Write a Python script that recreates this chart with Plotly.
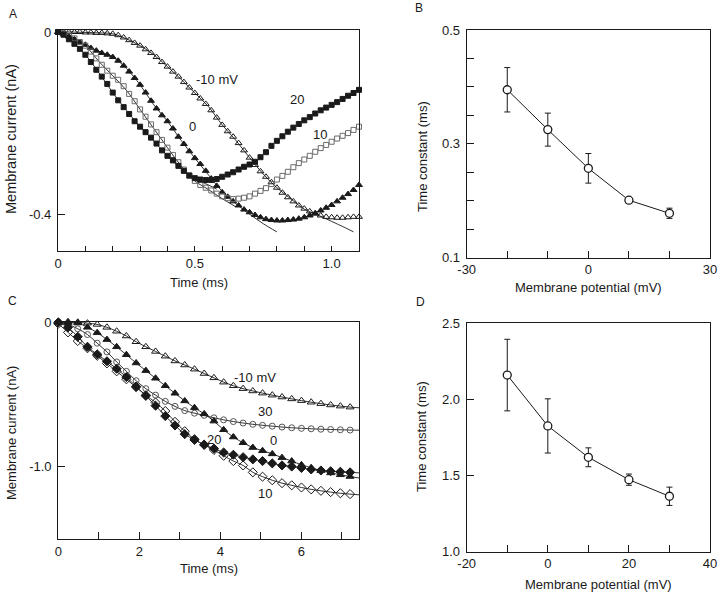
import plotly.graph_objects as go

# ---------------- Panel A data (membrane current, nA) ----------------
tA = [round(0.02 * i, 2) for i in range(56)]
A_20 = [0, -0.006, -0.016, -0.026, -0.037, -0.050, -0.066, -0.083, -0.098, -0.114,
        -0.133, -0.150, -0.165, -0.180, -0.196, -0.208, -0.220, -0.232, -0.245, -0.260,
        -0.272, -0.282, -0.294, -0.305, -0.315, -0.321, -0.324, -0.325, -0.325, -0.323,
        -0.318, -0.313, -0.308, -0.302, -0.296, -0.291, -0.285, -0.275, -0.264, -0.250,
        -0.239, -0.229, -0.219, -0.210, -0.202, -0.194, -0.187, -0.179, -0.172, -0.166,
        -0.160, -0.154, -0.147, -0.140, -0.134, -0.127]
A_10 = [0, -0.003, -0.008, -0.014, -0.022, -0.030, -0.043, -0.058, -0.072, -0.085,
        -0.096, -0.105, -0.119, -0.136, -0.152, -0.170, -0.186, -0.203, -0.220, -0.237,
        -0.254, -0.270, -0.286, -0.302, -0.316, -0.327, -0.336, -0.342, -0.348, -0.355,
        -0.361, -0.365, -0.367, -0.366, -0.364, -0.361, -0.355, -0.349, -0.343, -0.334,
        -0.324, -0.316, -0.307, -0.297, -0.288, -0.280, -0.272, -0.263, -0.255, -0.248,
        -0.241, -0.234, -0.228, -0.222, -0.215, -0.208]
A_0 = [0, -0.004, -0.010, -0.016, -0.022, -0.028, -0.035, -0.041, -0.046, -0.050,
       -0.055, -0.063, -0.074, -0.087, -0.101, -0.116, -0.133, -0.151, -0.168, -0.183,
       -0.196, -0.212, -0.230, -0.246, -0.262, -0.277, -0.290, -0.305, -0.322, -0.338,
       -0.352, -0.362, -0.372, -0.381, -0.390, -0.396, -0.402, -0.407, -0.411, -0.413,
       -0.414, -0.414, -0.413, -0.412, -0.410, -0.407, -0.403, -0.398, -0.392, -0.386,
       -0.380, -0.372, -0.364, -0.356, -0.347, -0.336]
A_m10 = [0, 0, 0, 0, 0, -0.001, -0.001, -0.002, -0.002, -0.003,
         -0.004, -0.007, -0.012, -0.018, -0.024, -0.030, -0.038, -0.046, -0.055, -0.066,
         -0.076, -0.087, -0.098, -0.110, -0.122, -0.134, -0.146, -0.158, -0.172, -0.188,
         -0.204, -0.218, -0.230, -0.244, -0.260, -0.276, -0.292, -0.306, -0.318, -0.330,
         -0.342, -0.353, -0.363, -0.372, -0.381, -0.388, -0.394, -0.399, -0.403, -0.406,
         -0.407, -0.408, -0.408, -0.407, -0.406, -0.406]

# fitted curves, panel A
fitA_m10_t = [0, 0.05, 0.1, 0.15, 0.2, 0.25, 0.3, 0.35, 0.4, 0.45, 0.5, 0.55, 0.6, 0.65,
              0.7, 0.75, 0.8, 0.85, 0.9, 0.95, 1.0, 1.05, 1.08]
fitA_m10 = [0, 0, -0.001, -0.002, -0.004, -0.015, -0.030, -0.050, -0.076, -0.104, -0.134,
            -0.164, -0.204, -0.238, -0.276, -0.312, -0.342, -0.366, -0.389, -0.402, -0.416,
            -0.430, -0.439]
fitA_0_t = [0, 0.05, 0.1, 0.15, 0.2, 0.25, 0.3, 0.35, 0.4, 0.45, 0.5, 0.55, 0.6, 0.65,
            0.7, 0.75, 0.8]
fitA_0 = [0, -0.013, -0.028, -0.043, -0.055, -0.080, -0.116, -0.160, -0.196, -0.238,
          -0.277, -0.314, -0.350, -0.377, -0.400, -0.421, -0.439]
fitA_10_t = [0, 0.05, 0.1, 0.15, 0.2, 0.25, 0.3, 0.35, 0.4, 0.45, 0.5, 0.55, 0.6, 0.65]
fitA_10 = [0, -0.010, -0.030, -0.065, -0.096, -0.128, -0.170, -0.212, -0.254, -0.294,
           -0.327, -0.346, -0.366, -0.384]
fitA_20_t = [0, 0.05, 0.1, 0.15, 0.2, 0.25, 0.3, 0.35, 0.4, 0.45, 0.5, 0.55, 0.58]
fitA_20 = [0, -0.021, -0.050, -0.090, -0.133, -0.172, -0.208, -0.239, -0.272, -0.300,
           -0.322, -0.336, -0.345]

# ---------------- Panel B data ----------------
B_v = [-20, -10, 0, 10, 20]
B_tau = [0.395, 0.325, 0.257, 0.201, 0.178]
B_err = [0.039, 0.029, 0.026, 0.005, 0.009]

# ---------------- Panel C data ----------------
tC = [round(0.24 * i, 2) for i in range(32)]
C_m10 = [0, 0.004, 0, -0.006, -0.015, -0.035, -0.062, -0.095, -0.135, -0.170,
         -0.202, -0.235, -0.268, -0.296, -0.325, -0.355, -0.385, -0.415, -0.440, -0.460,
         -0.476, -0.491, -0.505, -0.518, -0.531, -0.543, -0.554, -0.564, -0.573, -0.581,
         -0.588, -0.593]
C_30 = [0, -0.015, -0.045, -0.085, -0.145, -0.205, -0.275, -0.340, -0.405, -0.460,
        -0.505, -0.548, -0.583, -0.612, -0.630, -0.645, -0.662, -0.676, -0.688, -0.698,
        -0.707, -0.714, -0.720, -0.726, -0.731, -0.735, -0.738, -0.741, -0.743, -0.745,
        -0.747, -0.748]
C_0 = [0, -0.002, -0.005, -0.035, -0.072, -0.120, -0.170, -0.225, -0.282, -0.335,
       -0.388, -0.440, -0.492, -0.545, -0.592, -0.635, -0.685, -0.745, -0.795, -0.835,
       -0.868, -0.890, -0.912, -0.938, -0.962, -0.988, -1.008, -1.028, -1.044, -1.057,
       -1.069, -1.080]
C_20 = [0, -0.035, -0.100, -0.170, -0.222, -0.270, -0.322, -0.380, -0.445, -0.510,
        -0.578, -0.650, -0.715, -0.775, -0.815, -0.848, -0.875, -0.902, -0.918, -0.935,
        -0.950, -0.962, -0.978, -0.992, -1.000, -1.010, -1.020, -1.027, -1.032, -1.036,
        -1.040, -1.044]
C_10 = [-0.010, -0.070, -0.130, -0.180, -0.232, -0.285, -0.340, -0.395, -0.450, -0.505,
        -0.556, -0.615, -0.690, -0.755, -0.810, -0.850, -0.885, -0.925, -0.962, -0.992,
        -1.040, -1.070, -1.095, -1.115, -1.130, -1.145, -1.158, -1.168, -1.177, -1.185,
        -1.191, -1.196]

# ---------------- Panel D data ----------------
D_v = [-10, 0, 10, 20, 30]
D_tau = [2.16, 1.826, 1.62, 1.473, 1.364]
D_err = [0.235, 0.178, 0.062, 0.037, 0.060]

INK = "#1a1a1a"
FONT = "Liberation Sans, Arial, Helvetica, sans-serif"

fig = go.Figure()

def fitline(t, y, xa, ya, shape="spline"):
    fig.add_trace(go.Scatter(x=t, y=y, mode="lines", xaxis=xa, yaxis=ya,
                             line=dict(color=INK, width=0.9, shape=shape),
                             showlegend=False, hoverinfo="skip"))

def marks(t, y, xa, ya, symbol, size, color=INK, fill=None, lw=1):
    fig.add_trace(go.Scatter(x=t, y=y, mode="markers", xaxis=xa, yaxis=ya,
                             cliponaxis=False,
                             marker=dict(symbol=symbol, size=size,
                                         color=fill if fill else color,
                                         line=dict(color=color, width=lw)),
                             showlegend=False))

# Panel A
fitline(fitA_m10_t, fitA_m10, "x", "y")
fitline(fitA_0_t, fitA_0, "x", "y")
fitline(fitA_10_t, fitA_10, "x", "y")
fitline(fitA_20_t, fitA_20, "x", "y")
marks(tA, A_m10, "x", "y", "triangle-up-open", 6)
marks(tA, A_0, "x", "y", "triangle-up", 6)
marks(tA, A_10, "x", "y", "square-open", 5, color="#6a6a6a")
marks(tA, A_20, "x", "y", "square", 5)

# Panel B
fig.add_trace(go.Scatter(x=B_v, y=B_tau, xaxis="x2", yaxis="y2", mode="lines+markers",
                         cliponaxis=False,
                         line=dict(color=INK, width=1),
                         marker=dict(symbol="circle", size=8, color="white",
                                     line=dict(color=INK, width=1.3)),
                         error_y=dict(type="data", array=B_err, color=INK,
                                      thickness=1, width=3),
                         showlegend=False))

# Panel C
for ys, sym, sz, col in [(C_m10, "triangle-up-open", 7, INK),
                         (C_30, "circle-open", 6, "#555555"),
                         (C_0, "triangle-up", 7, INK),
                         (C_20, "diamond", 7, INK),
                         (C_10, "diamond-open", 7, INK)]:
    fitline(tC, ys, "x3", "y3")
    marks(tC, ys, "x3", "y3", sym, sz, color=col)

# Panel D
fig.add_trace(go.Scatter(x=D_v, y=D_tau, xaxis="x4", yaxis="y4", mode="lines+markers",
                         cliponaxis=False,
                         line=dict(color=INK, width=1),
                         marker=dict(symbol="circle", size=8, color="white",
                                     line=dict(color=INK, width=1.3)),
                         error_y=dict(type="data", array=D_err, color=INK,
                                      thickness=1, width=3),
                         showlegend=False))

def ax(domain, rng, tickvals, ticktext, ticklen=6, anchor=None, standoff=None):
    d = dict(domain=domain, range=rng, tickmode="array", tickvals=tickvals,
             ticktext=ticktext, ticks="inside", ticklen=ticklen, tickwidth=1,
             tickcolor=INK, showline=True, linecolor=INK, linewidth=1.2,
             mirror=True, showgrid=False, zeroline=False, automargin=False,
             ticklabeloverflow="allow",
             tickfont=dict(family=FONT, size=13, color=INK))
    if anchor:
        d["anchor"] = anchor
    if standoff is not None:
        d["ticklabelstandoff"] = standoff
    return d

W, H = 720, 593
def px(x0, x1):
    return [x0 / W, x1 / W]
def py(top, bottom):
    return [1 - bottom / H, 1 - top / H]

a_x_vals = [round(0.1 * i, 1) for i in range(12)]
a_x_txt = ["0" if v == 0 else ("0.5" if v == 0.5 else ("1.0" if v == 1.0 else "")) for v in a_x_vals]
b_x_vals = [-30, -20, -10, 0, 10, 20, 30]
b_x_txt = ["-30", "", "", "0", "", "", "30"]
b_y_vals = [0.1, 0.15, 0.2, 0.25, 0.3, 0.35, 0.4, 0.45, 0.5]
b_y_txt = ["0.1", "", "", "", "0.3", "", "", "", "0.5"]
c_x_vals = [0, 1, 2, 3, 4, 5, 6, 7]
c_x_txt = ["0", "", "2", "", "4", "", "6", ""]
d_x_vals = [-20, -10, 0, 10, 20, 30, 40]
d_x_txt = ["-20", "", "0", "", "20", "", "40"]
d_y_vals = [1.0, 1.5, 2.0, 2.5]
d_y_txt = ["1.0", "1.5", "2.0", "2.5"]

fig.update_layout(
    template="none",
    width=W, height=H, margin=dict(l=0, r=0, t=0, b=0, autoexpand=False),
    paper_bgcolor="white", plot_bgcolor="white",
    font=dict(family=FONT, color=INK, size=13),
    xaxis=ax(px(58, 359), [0, 1.1], a_x_vals, a_x_txt, 5, "y"),
    yaxis=ax(py(30, 251), [-0.481, 0.0044], [0, -0.4], ["0", "-0.4"], 7, "x", 3),
    xaxis2=ax(px(466.7, 710), [-30, 30], b_x_vals, b_x_txt, 7, "y2"),
    yaxis2=ax(py(30, 257.7), [0.1, 0.5], b_y_vals, b_y_txt, 7, "x2", 3),
    xaxis3=ax(px(58.3, 359), [0, 7.42], c_x_vals, c_x_txt, 7, "y3"),
    yaxis3=ax(py(321.7, 539.3), [-1.504, 0.004], [0, -1.0], ["0", "-1.0"], 7, "x3", 3),
    xaxis4=ax(px(466.7, 710), [-20, 40], d_x_vals, d_x_txt, 7, "y4"),
    yaxis4=ax(py(323.3, 551.7), [1.0, 2.5], d_y_vals, d_y_txt, 7, "x4", 3),
)

anns = []
def ptxt(x, y, text, size=13, angle=0):
    anns.append(dict(x=x / W, y=1 - y / H, xref="paper", yref="paper", text=text,
                     showarrow=False, textangle=angle, xanchor="center", yanchor="middle",
                     font=dict(family=FONT, size=size, color=INK)))
def dtxt(x, y, text, xa, ya, size=13):
    anns.append(dict(x=x, y=y, xref=xa, yref=ya, text=text, showarrow=False,
                     xanchor="center", yanchor="middle",
                     font=dict(family=FONT, size=size, color=INK)))

# panel letters
ptxt(13, 14, "A", 12)
ptxt(419, 8, "B", 12)
ptxt(13, 301, "C", 12)
ptxt(420, 302, "D", 12)
# axis titles
ptxt(11, 139, "Membrane current (nA)", 14.5, -90)
ptxt(199, 282, "Time (ms)", 13)
ptxt(422, 157, "Time constant (ms)", 13, -90)
ptxt(588, 288, "Membrane potential (mV)", 13)
ptxt(11, 433, "Membrane current (nA)", 13, -90)
ptxt(209, 568, "Time (ms)", 13)
ptxt(422, 437, "Time constant (ms)", 13, -90)
ptxt(598, 584, "Membrane potential (mV)", 13)
# curve labels A
dtxt(0.58, -0.105, "-10 mV", "x", "y")
dtxt(0.872, -0.149, "20", "x", "y")
dtxt(0.956, -0.226, "10", "x", "y")
dtxt(0.491, -0.207, "0", "x", "y")
# curve labels C
dtxt(4.85, -0.380, "-10 mV", "x3", "y3")
dtxt(5.09, -0.62, "30", "x3", "y3")
dtxt(3.85, -0.81, "20", "x3", "y3")
dtxt(5.31, -0.82, "0", "x3", "y3")
dtxt(5.10, -1.185, "10", "x3", "y3")

fig.update_layout(annotations=anns)
fig.write_html("out.html", config={"displayModeBar": False},
               post_script="document.body.style.margin='0';document.body.style.overflow='hidden';")
